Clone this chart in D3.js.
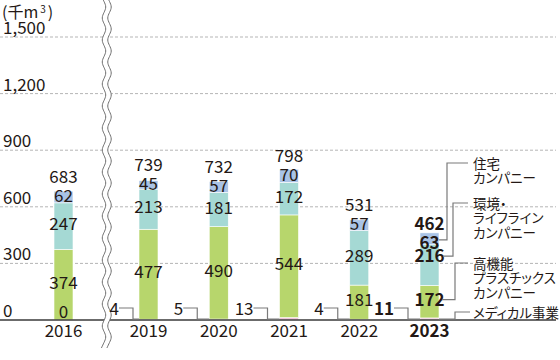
<!DOCTYPE html>
<html>
<head>
<meta charset="utf-8">
<script src="https://cdn.jsdelivr.net/npm/d3@7"></script>
<style>
  body { margin: 0; background: #fff; }
  svg text { font-family: "Noto Sans CJK JP", "Noto Sans", sans-serif; fill: #231815; }
</style>
</head>
<body>
<svg id="chart" width="560" height="360"></svg>
<script>
// data (千m3)
const years = [2016, 2019, 2020, 2021, 2022, 2023];
const medical = [0, 4, 5, 13, 4, 11];
const plastics = [374, 477, 490, 544, 181, 172];
const environment = [247, 213, 181, 172, 289, 216];
const housing = [62, 45, 57, 70, 57, 63];
const totals = [683, 739, 732, 798, 531, 462];
const yTicks = [0, 300, 600, 900, 1200, 1500];
const seriesKeys = ["medical", "plastics", "environment", "housing"];
const seriesColors = ["#f2c4dc", "#b7d66c", "#a5d9d4", "#a9c3e6"];
const legendLabels = [
  ["メディカル事業"],
  ["高機能", "プラスチックス", "カンパニー"],
  ["環境・", "ライフライン", "カンパニー"],
  ["住宅", "カンパニー"]
];

const svg = d3.select("#chart");

const x = d3.scaleLinear().domain([2016, 2019, 2023]).range([63.5, 148.5, 429.5]);
const y = d3.scaleLinear().domain([0, 1500]).range([320, 37]);
const barW = 19;

const rows = years.map((yr, i) => ({
  year: yr, medical: medical[i], plastics: plastics[i],
  environment: environment[i], housing: housing[i], total: totals[i]
}));
const stacked = d3.stack().keys(seriesKeys)(rows);

// grid lines
svg.append("g").selectAll("line").data(yTicks.slice(1)).enter().append("line")
  .attr("x1", 0).attr("x2", 556)
  .attr("y1", d => y(d)).attr("y2", d => y(d))
  .style("stroke", "#b5b5b5").style("stroke-width", 1)
  .style("stroke-dasharray", "3,2");

// y tick labels
svg.append("g").selectAll("text").data(yTicks).enter().append("text")
  .attr("x", 3).attr("y", d => y(d) - 3)
  .style("font-size", "17px")
  .text(d => d3.format(",")(d));

const unit = svg.append("text").attr("x", 2).attr("y", 18).style("font-size", "16px");
unit.append("tspan").text("(千m");
unit.append("tspan").attr("dx", 2).attr("dy", -5).style("font-size", "10px").text("3");
unit.append("tspan").attr("dx", 2).attr("dy", 5).text(")");

// bars
const layers = svg.append("g").selectAll("g").data(stacked).enter().append("g")
  .style("fill", (d, i) => seriesColors[i]);
layers.selectAll("rect").data(d => d).enter().append("rect")
  .attr("x", d => x(d.data.year) - barW / 2)
  .attr("width", barW)
  .attr("y", d => y(d[1]))
  .attr("height", d => Math.max(0, y(d[0]) - y(d[1])))
  .style("stroke", "#fff").style("stroke-width", 0.6);

// axis line
svg.append("line").attr("x1", 0).attr("x2", 556).attr("y1", 320).attr("y2", 320)
  .style("stroke", "#3a3a3a").style("stroke-width", 1.5);

// break mark
const waveL = [], waveR = [];
for (let t = -4; t <= 350; t += 5.5) {
  const k = Math.round(t / 5.5) % 4;
  const off = [0, 2.6, 0, -2.6][(k + 4) % 4];
  waveL.push([104 + off, t]);
  waveR.push([109.5 + off, t]);
}
const wave = d3.line().curve(d3.curveBasis);
svg.append("path")
  .attr("d", wave(waveL) + "L" + wave(waveR.slice().reverse()).slice(1) + "Z")
  .style("fill", "#fff");
svg.append("path").attr("d", wave(waveL)).style("fill", "none").style("stroke", "#6e6e6e").style("stroke-width", 1);
svg.append("path").attr("d", wave(waveR)).style("fill", "none").style("stroke", "#6e6e6e").style("stroke-width", 1);

const last = years[years.length - 1];
const weight = yr => yr === last ? "bold" : "normal";

// x labels
svg.append("g").selectAll("text").data(years).enter().append("text")
  .attr("x", d => x(d)).attr("y", 337)
  .attr("text-anchor", "middle")
  .style("font-size", "17px").style("font-weight", weight)
  .text(d => d);

// segment labels (plastics, environment, housing)
const nudge = { environment: -7, housing: 5 };
const labelY = (d, key) => (y(d[0]) + y(d[1])) / 2 - (key === "housing" ? 1 : 2) +
  (d.data.year === last ? (nudge[key] || 0) : 0);
stacked.slice(1).forEach(layer => {
  svg.append("g").selectAll("text").data(layer).enter().append("text")
    .attr("x", d => x(d.data.year))
    .attr("y", d => labelY(d, layer.key))
    .attr("dy", "0.36em")
    .attr("text-anchor", "middle")
    .style("font-size", "17px").style("font-weight", d => weight(d.data.year))
    .text(d => d.data[layer.key]);
});

// totals sit just above the housing label
const topLayer = stacked[stacked.length - 1];
svg.append("g").selectAll("text").data(topLayer).enter().append("text")
  .attr("x", d => x(d.data.year)).attr("y", d => labelY(d, "housing") - 13)
  .attr("text-anchor", "middle")
  .style("font-size", "17px").style("font-weight", d => weight(d.data.year))
  .text(d => d.data.total);

// medical labels with leaders
rows.forEach((d, i) => {
  const left = x(d.year) - barW / 2;
  if (d.medical === 0) {
    svg.append("text").attr("x", x(d.year)).attr("y", 318)
      .attr("text-anchor", "middle").style("font-size", "17px").text(d.medical);
    return;
  }
  const s = i === 1 ? 6 : 0; // first bar after the break sits closer
  svg.append("path")
    .attr("d", `M${left - 26 + s},308H${left - 12 + s}V319H${left}`)
    .style("fill", "none").style("stroke", "#7a7a7a").style("stroke-width", 1.2);
  svg.append("text").attr("x", left - 26 + s).attr("y", 315)
    .attr("text-anchor", "end").style("font-size", "17px")
    .style("font-weight", weight(d.year)).text(d.medical);
});

// legend leaders for the last bar
const lastStack = stacked.map(s => s[s.length - 1]);
const right = x(last) + barW / 2;
const legendY = [312, 263, 203, 163];
const elbowX = [455, 455, 453, 447];
const startY = [319, labelY(lastStack[1], "plastics"), labelY(lastStack[2], "environment"),
  labelY(lastStack[3], "housing") - 3];
const startX = [right, right + 3, right + 4, right];
legendLabels.forEach((lines, i) => {
  svg.append("path")
    .attr("d", `M${startX[i]},${startY[i]}H${elbowX[i]}V${legendY[i]}H${i === 0 ? 470 : 468}`)
    .style("fill", "none").style("stroke", "#7a7a7a").style("stroke-width", 1.2);
  const t = svg.append("text").attr("x", 473).attr("y", legendY[i] + 1)
    .style("font-size", "13.5px").style("font-feature-settings", "'palt'");
  lines.forEach((ln, j) => {
    t.append("tspan").attr("x", 473).attr("dy", j === 0 ? "0.35em" : "14.5").text(ln);
  });
});
</script>
</body>
</html>
